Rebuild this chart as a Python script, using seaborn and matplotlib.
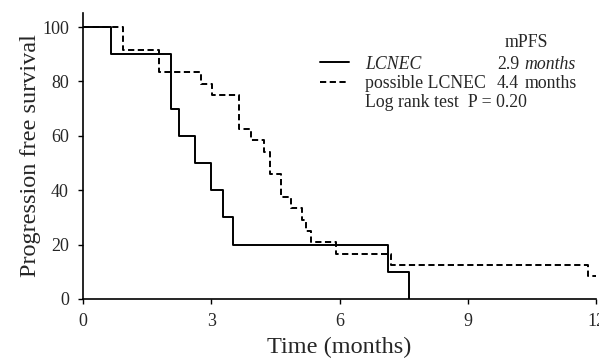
import numpy as np
import pandas as pd
import matplotlib
matplotlib.use("Agg")
import matplotlib.pyplot as plt
import seaborn as sns

# Kaplan-Meier step points (time in months, PFS in %)
lcnec_time = [0, 0.66, 2.05, 2.25, 2.62, 2.99, 3.26, 3.51, 7.13, 7.62]
lcnec_pfs = [100, 90, 70, 60, 50, 40, 30, 20, 10, 0]

possible_time = [0, 0.92, 1.78, 2.76, 3.01, 3.65, 3.93, 4.22, 4.36, 4.63,
                 4.86, 5.12, 5.21, 5.33, 5.92, 7.2, 11.81, 12.0]
possible_pfs = [100, 91.7, 83.3, 79.2, 75, 62.5, 58.3, 54.2, 45.8, 37.5,
                33.3, 29.2, 25, 20.8, 16.7, 12.5, 8.3, 8.3]

groups = ['LCNEC', 'possible LCNEC']
mpfs = ['2.9', '4.4']
x_ticks = [0, 3, 6, 9, 12]
y_ticks = [0, 20, 40, 60, 80, 100]

df = pd.concat([
    pd.DataFrame({'time': lcnec_time, 'pfs': lcnec_pfs, 'group': groups[0]}),
    pd.DataFrame({'time': possible_time, 'pfs': possible_pfs, 'group': groups[1]}),
])

sns.set_style('ticks')
plt.rcParams['font.family'] = ['Liberation Serif', 'DejaVu Serif']

fig = plt.figure(figsize=(5.99, 3.58), dpi=100)
ax = fig.add_axes([0.139, 0.165, 0.856, 0.799])

sns.lineplot(data=df, x='time', y='pfs', style='group', hue='group',
             palette=['black', 'black'], dashes=[(None, None), (3.2, 1.8)],
             drawstyle='steps-post', estimator=None, sort=False,
             linewidth=1.4, ax=ax, legend=True)

ax.set_xlim(0, 12)
ax.set_ylim(0, 105.2)
ax.set_xticks(x_ticks)
ax.set_yticks(y_ticks)
ax.tick_params(axis='both', labelsize=13, length=3.8, width=1, color='black')
ax.tick_params(axis='x', pad=6.5)
ax.tick_params(axis='y', pad=6.5)
ax.set_xlabel('Time (months)', fontsize=17.5, labelpad=5)
ax.set_ylabel('Progression free survival', fontsize=17.5, labelpad=1)
sns.despine(ax=ax)
for s in ['left', 'bottom']:
    ax.spines[s].set_linewidth(1.2)
    ax.spines[s].set_color('black')

leg = ax.legend(loc='upper left', bbox_to_anchor=(0.462, 0.851), frameon=False,
                fontsize=12.8, handlelength=1.65, handletextpad=0.9,
                labelspacing=0.15, borderpad=0, borderaxespad=0)
leg.get_texts()[0].set_style('italic')

fs = 12.8
ax.text(0.821, 0.881, 'mPFS', transform=ax.transAxes, fontsize=fs,
        ha='left', va='baseline')
ys = [0.804, 0.736]
for i in range(2):
    ax.text(0.807, ys[i], mpfs[i], transform=ax.transAxes, fontsize=fs,
            ha='left', va='baseline')
    ax.text(0.861, ys[i], 'months', transform=ax.transAxes, fontsize=fs,
            ha='left', va='baseline', style='italic' if i == 0 else 'normal')
ax.text(0.55, 0.672, 'Log rank test  P = 0.20', transform=ax.transAxes,
        fontsize=fs, ha='left', va='baseline')

fig.savefig('out.png', dpi=100)
